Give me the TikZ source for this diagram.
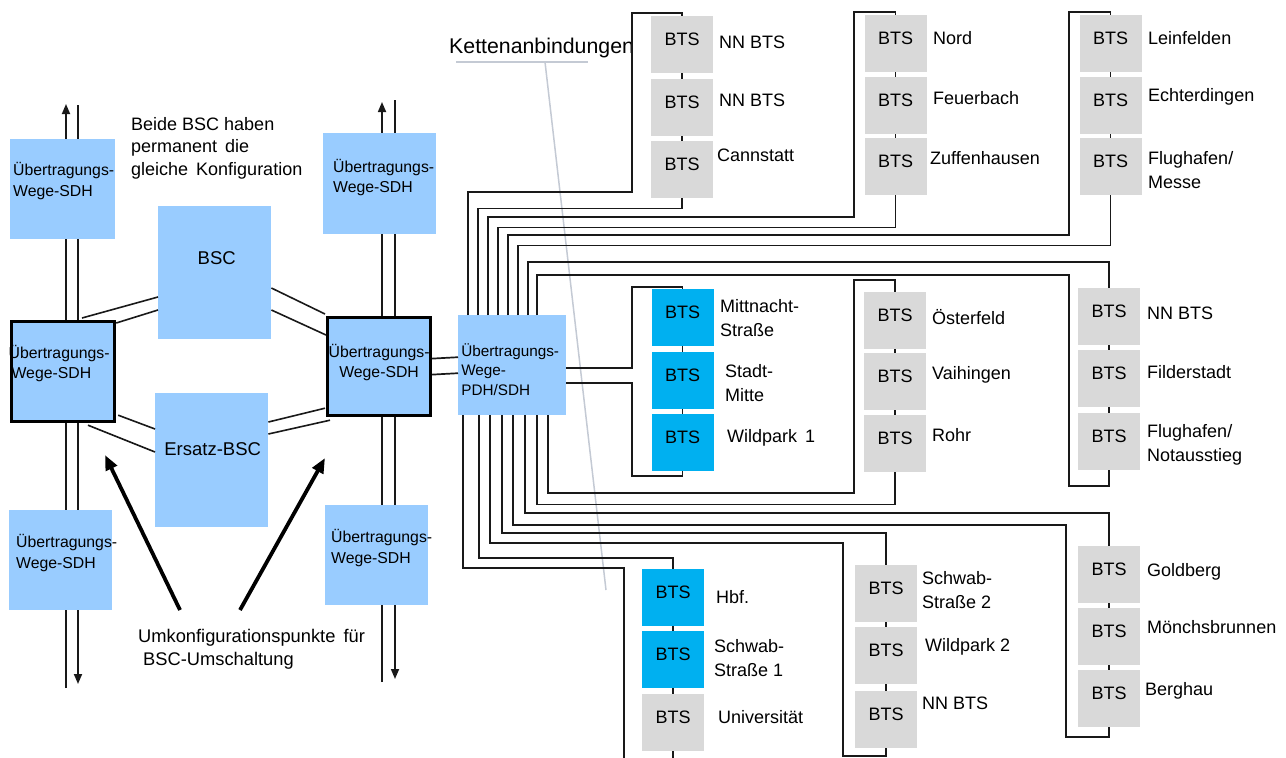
\documentclass[tikz,border=0pt]{standalone}
\usepackage{fontspec}
\setmainfont{Liberation Sans}
\usetikzlibrary{arrows.meta,calc}
\definecolor{sdhblue}{RGB}{153,204,255}
\definecolor{btscyan}{RGB}{0,176,240}
\definecolor{btsgray}{RGB}{217,217,217}
\definecolor{leadgray}{RGB}{196,202,212}
\definecolor{wirec}{RGB}{25,25,25}
\begin{document}
\begin{tikzpicture}[x=1pt,y=-1pt,
  sdhbox/.style={fill=sdhblue, inner sep=0pt, anchor=north west, minimum width=103pt, minimum height=100pt},
  thickbox/.style={sdhbox, draw=black, line width=3.2pt},
  sdhlab/.style={align=left, inner sep=0pt, font=\fontsize{15.8}{20.5}\selectfont},
  bsclab/.style={inner sep=0pt, font=\fontsize{18.5}{22}\selectfont},
  bts/.style={fill=btsgray, anchor=north, minimum width=62pt, minimum height=57pt, inner xsep=0pt, inner ysep=0pt,
              text height=29.5pt, text depth=27.5pt, font=\fontsize{18}{22}\selectfont},
  btsc/.style={bts, fill=btscyan},
  btsname/.style={anchor=west, inner sep=0pt, align=left, font=\fontsize{18}{23.5}\selectfont},
  freetext/.style={anchor=west, inner sep=0pt, align=left},
  wire/.style={draw=wirec, line width=1.7pt},
  pair/.style={draw=wirec, line width=1.6pt},
  trunk/.style={draw=wirec, line width=1.7pt},
  trunkarrow/.style={trunk, -{Triangle[length=10pt,width=8pt]}},
  bigarrow/.style={draw=black, line width=3.8pt, -{Triangle[length=15pt,width=12pt]}},
  lead/.style={draw=leadgray, line width=1.5pt}
]
\useasboundingbox (0,0) rectangle (1286,758);

% ---------- trunk lines (behind boxes)
\coordinate (lupB) at (66,688);  \coordinate (lupT) at (66,104);
\coordinate (ldnT) at (78,105);  \coordinate (ldnB) at (78,684);
\coordinate (rupB) at (382,682); \coordinate (rupT) at (382,102);
\coordinate (rdnT) at (395,100); \coordinate (rdnB) at (395,679);
\draw[trunkarrow] (lupB) -- (lupT);
\draw[trunkarrow] (ldnT) -- (ldnB);
\draw[trunkarrow] (rupB) -- (rupT);
\draw[trunkarrow] (rdnT) -- (rdnB);

% ---------- SDH boxes
\node[sdhbox, minimum width=105pt] (sL1) at (10,139) {};
\node[sdhlab] at ([xshift=1pt,yshift=8pt]sL1.center) {Übertragungs-\\Wege-SDH};
\node[sdhbox, minimum width=103pt] (sL3) at (9,510) {};
\node[sdhlab] at ([xshift=6pt,yshift=7pt]sL3.center) {Übertragungs-\\Wege-SDH};
\node[sdhbox, minimum width=113pt, minimum height=101pt] (sR1) at (323,133) {};
\node[sdhlab] at ([xshift=4pt,yshift=6pt]sR1.center) {Übertragungs-\\Wege-SDH};
\node[sdhbox] (sR3) at (325,505) {};
\node[sdhlab] at ([xshift=5pt,yshift=7pt]sR3.center) {Übertragungs-\\Wege-SDH};

% ---------- BSC boxes
\node[sdhbox, minimum width=113pt, minimum height=133pt] (bsc) at (158,206) {};
\node[bsclab] at ([xshift=2pt,yshift=15pt]bsc.center) {BSC};
\node[sdhbox, minimum width=113pt, minimum height=134pt] (ers) at (155,393) {};
\node[bsclab] at ([xshift=1pt,yshift=11pt]ers.center) {Ersatz-BSC};

% ---------- thick SDH boxes
\node[thickbox] (sL2) at (10,320) {};
\node[sdhlab] at ([xshift=-4pt,yshift=8pt]sL2.center) {Übertragungs-\\\hspace*{3pt}Wege-SDH};
\node[thickbox, minimum height=98pt] (sR2) at (326,316) {};
\node[sdhlab, align=center] at ([xshift=0pt,yshift=4pt]sR2.center) {Übertragungs-\\Wege-SDH};

% ---------- pair lines BSC <-> SDH
\draw[pair] ([shift={(72,-2)}]sL2.north west) -- ([shift={(0,91)}]bsc.north west);
\draw[pair] ([shift={(0,3)}]sL2.north east) -- ([shift={(0,104)}]bsc.north west);
\draw[pair] ([shift={(0,82)}]bsc.north east) -- ([shift={(-1,-2)}]sR2.north west);
\draw[pair] ([shift={(0,104)}]bsc.north east) -- ([shift={(0,19)}]sR2.north west);
\draw[pair] ([shift={(2,-8)}]sL2.south east) -- ([shift={(0,36)}]ers.north west);
\draw[pair] ([shift={(78,2)}]sL2.south west) -- ([shift={(0,59)}]ers.north west);
\draw[pair] ([shift={(0,29)}]ers.north east) -- ([shift={(-1,-9)}]sR2.south west);
\draw[pair] ([shift={(0,41)}]ers.north east) -- ([shift={(4,3)}]sR2.south west);

% ---------- PDH/SDH box
\node[sdhbox, minimum width=108pt, minimum height=100pt] (pdh) at (458,315) {};
\node[sdhlab, font=\fontsize{15.3}{19.5}\selectfont] at ([xshift=-2pt,yshift=-4pt]pdh.center) {Übertragungs-\\Wege-\\PDH/SDH};
\draw[wire] ([yshift=8pt]sR2.east) -- ([yshift=8pt]pdh.west);
\draw[wire] ([yshift=-8pt]sR2.east) -- ([yshift=-8pt]pdh.west);

% ---------- free texts
\node[freetext, font=\fontsize{18}{22.5}\selectfont] (beide) at (131,148)
  {Beide BSC haben\\permanent\, die\\gleiche\, Konfiguration};
\node[freetext, font=\fontsize{18.3}{23}\selectfont] (umk) at (138,649)
  {Umkonfigurationspunkte\, für\\\hspace*{5pt}BSC-Umschaltung};
\coordinate (umLs) at (180,610); \coordinate (umLt) at (105,455);
\coordinate (umRs) at (240,610); \coordinate (umRt) at (325,458);
\draw[bigarrow] (umLs) -- (umLt);
\draw[bigarrow] (umRs) -- (umRt);

\node[freetext, font=\fontsize{21.3}{24}\selectfont] (kette) at (449,48) {Kettenanbindungen};
\coordinate (k1) at (456,62); \coordinate (k2) at (588,62);
\coordinate (k3) at (545,62); \coordinate (k4) at (606,590);
\draw[lead] (k1) -- (k2);
\draw[lead] (k3) -- (k4);

% ---------- BTS chains
\node[bts] (a1) at (682,16) {BTS};
\node[bts] (a2) at (682,79) {BTS};
\node[bts] (a3) at (682,141) {BTS};
\node[bts] (b1) at (895.5,15) {BTS};
\node[bts] (b2) at (895.5,77) {BTS};
\node[bts] (b3) at (895.5,138) {BTS};
\node[bts] (c1) at (1110.5,15) {BTS};
\node[bts] (c2) at (1110.5,77) {BTS};
\node[bts] (c3) at (1110.5,138) {BTS};
\node[btsc] (m1) at (682.5,289) {BTS};
\node[btsc] (m2) at (682.5,352) {BTS};
\node[btsc] (m3) at (682.5,414) {BTS};
\node[bts] (e1) at (895,292) {BTS};
\node[bts] (e2) at (895,353) {BTS};
\node[bts] (e3) at (895,415) {BTS};
\node[bts] (f1) at (1109,288) {BTS};
\node[bts] (f2) at (1109,350) {BTS};
\node[bts] (f3) at (1109,413) {BTS};
\node[btsc] (h1) at (673,569) {BTS};
\node[btsc] (h2) at (673,631) {BTS};
\node[bts] (h3) at (673,694) {BTS};
\node[bts] (s1) at (886,565) {BTS};
\node[bts] (s2) at (886,627) {BTS};
\node[bts] (s3) at (886,691) {BTS};
\node[bts] (g1) at (1109,546) {BTS};
\node[bts] (g2) at (1109,608) {BTS};
\node[bts] (g3) at (1109,670) {BTS};

\foreach \p/\q in {a1/a2,a2/a3,b1/b2,b2/b3,c1/c2,c2/c3,m1/m2,m2/m3,e1/e2,e2/e3,f1/f2,f2/f3,h1/h2,h2/h3,s1/s2,s2/s3,g1/g2,g2/g3}
  \draw[wire] (\p.south) -- (\q.north);

% ---------- BTS names
\node[btsname] at (719,42) {NN BTS};
\node[btsname] at (719,100) {NN BTS};
\node[btsname] at (717,155) {Cannstatt};
\node[btsname] at (933,38) {Nord};
\node[btsname] at (933,98) {Feuerbach};
\node[btsname] at (930,158) {Zuffenhausen};
\node[btsname] at (1148,38) {Leinfelden};
\node[btsname] at (1148,97) {Echterdingen};
\node[btsname] at (1148,170) {Flughafen/\\Messe};
\node[btsname] at (720,318) {Mittnacht-\\Straße};
\node[btsname] at (725,383) {Stadt-\\Mitte};
\node[btsname] at (727,438) {Wildpark\, 1};
\node[btsname] at (932,317) {Österfeld};
\node[btsname] at (932,375) {Vaihingen};
\node[btsname] at (932,435) {Rohr};
\node[btsname] at (1147,313) {NN BTS};
\node[btsname] at (1147,372) {Filderstadt};
\node[btsname] at (1147,445) {Flughafen/\\Notausstieg};
\node[btsname] at (716,597) {Hbf.};
\node[btsname] at (714,658) {Schwab-\\Straße 1};
\node[btsname] at (718,717) {Universität};
\node[btsname] at (922,590) {Schwab-\\Straße 2};
\node[btsname] at (925,647) {Wildpark 2};
\node[btsname] at (922,703) {NN BTS};
\node[btsname] at (1147,572) {Goldberg};
\node[btsname] at (1147,627) {Mönchsbrunnen};
\node[btsname] at (1145,691) {Berghau};

% ---------- wires from PDH/SDH (top side)
\draw[wire] ([xshift=10pt]pdh.north west) |- (632,192) -- (632,13) -| (a1.north);
\draw[wire] ([xshift=20pt]pdh.north west) |- ([yshift=-10pt]a3.south) -- (a3.south);
\draw[wire] ([xshift=30pt]pdh.north west) |- (854,217) -- (854,12) -| (b1.north);
\draw[wire] ([xshift=40pt]pdh.north west) |- ([yshift=-32pt]b3.south) -- (b3.south);
\draw[wire] ([xshift=50pt]pdh.north west) |- (1069,235) -- (1069,12) -| (c1.north);
\draw[wire] ([xshift=60pt]pdh.north west) |- ([yshift=-50pt]c3.south) -- (c3.south);
\draw[wire] ([xshift=70pt]pdh.north west) |- ([yshift=26pt]f1.north) -- (f1.north);
\draw[wire] ([xshift=79pt]pdh.north west) |- (1069,275) -- (1069,486) -| (f3.south);
% right side
\draw[wire] ([yshift=-3pt]pdh.east) -| (632,287) -| (m1.north);
\draw[wire] ([yshift=-18pt]pdh.east) -| (632,476) -| (m3.south);
% bottom side
\draw[wire] ([xshift=90pt]pdh.south west) |- (854,493) -- (854,280) -| (e1.north);
\draw[wire] ([xshift=79pt]pdh.south west) |- ([yshift=-32pt]e3.south) -- (e3.south);
\draw[wire] ([xshift=67pt]pdh.south west) |- ([yshift=33pt]g1.north) -- (g1.north);
\draw[wire] ([xshift=55pt]pdh.south west) |- (1066,525) -- (1066,737) -| (g3.south);
\draw[wire] ([xshift=44pt]pdh.south west) |- ([yshift=32pt]s1.north) -- (s1.north);
\draw[wire] ([xshift=32pt]pdh.south west) |- (843,543) -- (843,756) -| (s3.south);
\draw[wire] ([xshift=21pt]pdh.south west) |- ([yshift=11pt]h1.north) -- (h1.north);
\coordinate (hbend) at (624,568); \coordinate (hoff) at (624,760);
\draw[wire] ([xshift=5pt]pdh.south west) |- (hbend) -- (hoff);
\coordinate (uoff) at (673,760);
\draw[wire] (h3.south) -- (uoff);
\end{tikzpicture}
\end{document}
